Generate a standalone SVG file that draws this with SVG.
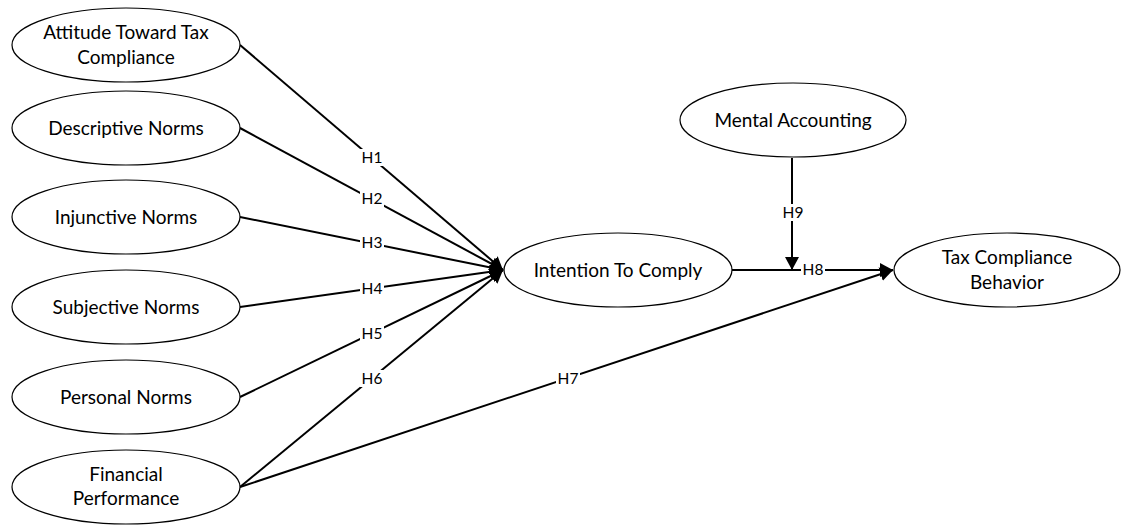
<svg xmlns="http://www.w3.org/2000/svg" width="1122" height="525" viewBox="0 0 1122 525">
<style>
.node ellipse{fill:#fff;stroke:#000;stroke-width:1.2}
.node text{font-family:Lato,"Liberation Sans",sans-serif;font-size:19px;fill:#000;text-anchor:middle}
.conn line{stroke:#000;stroke-width:2;fill:none}
.lbl rect{fill:#fff}
.lbl text{font-family:Lato,"Liberation Sans",sans-serif;font-size:15.5px;fill:#000;text-anchor:middle}
</style>
<defs>
<marker id="arr" markerUnits="userSpaceOnUse" markerWidth="14" markerHeight="14" refX="13" refY="7" orient="auto">
<path d="M0,0 L13,7 L0,14 z" fill="#000"/>
</marker>
</defs>
<rect width="1122" height="525" fill="#fff"/>
<g id="connectors" class="conn">
<line x1="240" y1="45" x2="503" y2="270" marker-end="url(#arr)"/>
<line x1="240" y1="128" x2="503" y2="270" marker-end="url(#arr)"/>
<line x1="240" y1="217" x2="503" y2="270" marker-end="url(#arr)"/>
<line x1="240" y1="307" x2="503" y2="270" marker-end="url(#arr)"/>
<line x1="240" y1="397" x2="503" y2="270" marker-end="url(#arr)"/>
<line x1="240" y1="487" x2="503" y2="270" marker-end="url(#arr)"/>
<line x1="240" y1="487" x2="893" y2="270" marker-end="url(#arr)"/>
<line x1="732" y1="270" x2="893" y2="270" marker-end="url(#arr)"/>
<line x1="792" y1="158" x2="792" y2="270" marker-end="url(#arr)"/>
</g>
<g id="labels" class="lbl">
<rect x="360" y="149" width="24" height="17"/><text x="372" y="163">H1</text>
<rect x="360" y="190" width="24" height="17"/><text x="372" y="204">H2</text>
<rect x="360" y="234" width="24" height="17"/><text x="372" y="248">H3</text>
<rect x="360" y="280" width="24" height="17"/><text x="372" y="294">H4</text>
<rect x="360" y="325" width="24" height="17"/><text x="372" y="339">H5</text>
<rect x="360" y="370" width="24" height="17"/><text x="372" y="384">H6</text>
<rect x="556" y="370" width="24" height="17"/><text x="568" y="384">H7</text>
<rect x="801" y="261" width="24" height="17"/><text x="813" y="275">H8</text>
<rect x="781" y="204" width="24" height="17"/><text x="793" y="218">H9</text>
</g>
<g id="attitude" class="node"><ellipse cx="126" cy="45" rx="114" ry="37"/><text x="126" y="39">Attitude Toward Tax</text><text x="126" y="64">Compliance</text></g>
<g id="descriptive" class="node"><ellipse cx="126" cy="128" rx="114" ry="37"/><text x="126" y="134.5">Descriptive Norms</text></g>
<g id="injunctive" class="node"><ellipse cx="126" cy="217" rx="114" ry="37"/><text x="126" y="223.5">Injunctive Norms</text></g>
<g id="subjective" class="node"><ellipse cx="126" cy="307" rx="114" ry="37"/><text x="126" y="313.5">Subjective Norms</text></g>
<g id="personal" class="node"><ellipse cx="126" cy="397" rx="114" ry="37"/><text x="126" y="403.5">Personal Norms</text></g>
<g id="financial" class="node"><ellipse cx="126" cy="487" rx="114" ry="37"/><text x="126" y="481">Financial</text><text x="126" y="505">Performance</text></g>
<g id="intention" class="node"><ellipse cx="618" cy="270" rx="114" ry="37"/><text x="618" y="276.5">Intention To Comply</text></g>
<g id="mental" class="node"><ellipse cx="793" cy="120" rx="113" ry="37"/><text x="793" y="126.5">Mental Accounting</text></g>
<g id="behavior" class="node"><ellipse cx="1007" cy="270" rx="113" ry="37"/><text x="1007" y="264">Tax Compliance</text><text x="1007" y="288.5">Behavior</text></g>
</svg>
